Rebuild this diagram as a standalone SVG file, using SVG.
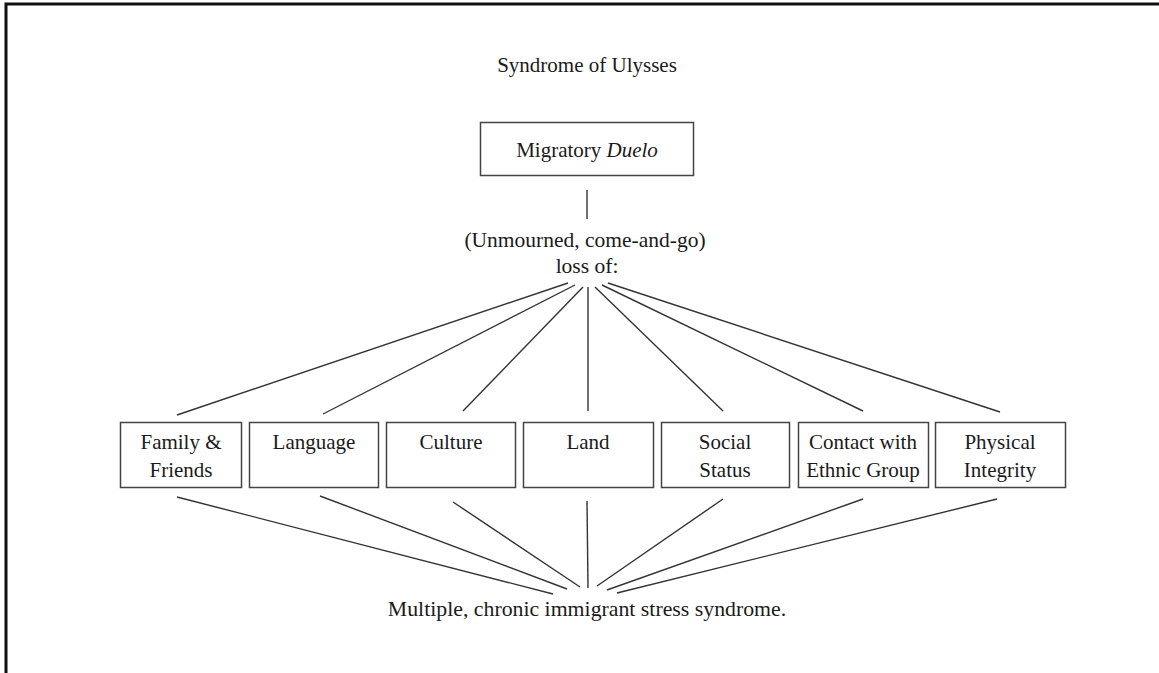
<svg xmlns="http://www.w3.org/2000/svg" width="1159" height="673" viewBox="0 0 1159 673">
<style>
text{font-family:"Liberation Serif","Times New Roman",serif;font-size:21px;fill:#1a1a1a;text-anchor:middle}
.box{fill:#fff;stroke:#444;stroke-width:1.5}
.con line{stroke:#333;stroke-width:1.4}
</style>
<rect width="1159" height="673" fill="#fff"/>
<g id="frame" stroke="#111" stroke-width="3" fill="none">
<polyline points="6,673 6,4 1159,4"/>
</g>
<g id="title"><text x="587" y="72">Syndrome of Ulysses</text></g>
<g id="duelo"><rect class="box" x="480.5" y="122.5" width="213" height="53"/><text x="587" y="157">Migratory <tspan font-style="italic">Duelo</tspan></text></g>
<g id="loss"><text x="585" y="247" style="font-size:21.5px">(Unmourned, come-and-go)</text><text x="587" y="273" style="font-size:21.5px">loss of:</text></g>
<g class="con" id="connectors">
<line x1="587" y1="190" x2="587" y2="219"/>
<line x1="568" y1="283" x2="177" y2="415"/>
<line x1="575" y1="285" x2="323" y2="414"/>
<line x1="583" y1="287" x2="463" y2="411"/>
<line x1="588" y1="287" x2="588" y2="411"/>
<line x1="595" y1="287" x2="723" y2="411"/>
<line x1="602" y1="285" x2="863" y2="411"/>
<line x1="608" y1="283" x2="1000" y2="412"/>
<line x1="177" y1="497" x2="553" y2="594"/>
<line x1="320" y1="496" x2="567" y2="589"/>
<line x1="453" y1="502" x2="580" y2="587"/>
<line x1="587" y1="501" x2="588" y2="588"/>
<line x1="723" y1="499" x2="597" y2="586"/>
<line x1="863" y1="499" x2="607" y2="590"/>
<line x1="997" y1="499" x2="617" y2="593"/>
</g>
<g id="family"><rect class="box" x="120.5" y="422.5" width="121" height="65"/><text x="181" y="449">Family &amp;</text><text x="181" y="477">Friends</text></g>
<g id="language"><rect class="box" x="249.5" y="422.5" width="129" height="65"/><text x="314" y="449">Language</text></g>
<g id="culture"><rect class="box" x="386.5" y="422.5" width="129" height="65"/><text x="451" y="449">Culture</text></g>
<g id="land"><rect class="box" x="523.5" y="422.5" width="130" height="65"/><text x="588" y="449">Land</text></g>
<g id="social"><rect class="box" x="661.5" y="422.5" width="128" height="65"/><text x="725" y="449">Social</text><text x="725" y="477">Status</text></g>
<g id="contact"><rect class="box" x="798.5" y="422.5" width="130" height="65"/><text x="863" y="449">Contact with</text><text x="863" y="477">Ethnic Group</text></g>
<g id="physical"><rect class="box" x="935.5" y="422.5" width="130" height="65"/><text x="1000" y="449">Physical</text><text x="1000" y="477">Integrity</text></g>
<g id="result"><text x="587" y="616" style="font-size:21.8px">Multiple, chronic immigrant stress syndrome.</text></g>
</svg>
